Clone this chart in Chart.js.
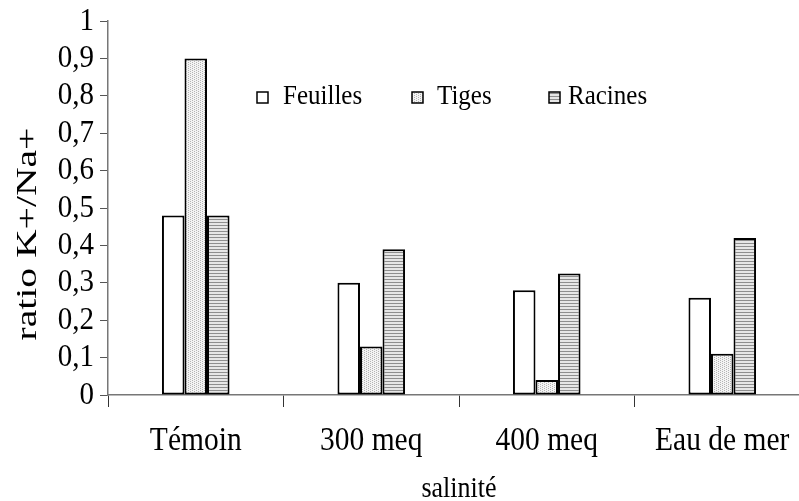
<!DOCTYPE html>
<html>
<head>
<meta charset="utf-8">
<script src="https://cdn.jsdelivr.net/npm/chart.js@4.4.1/dist/chart.umd.min.js"></script>
<style>
  html, body { margin: 0; padding: 0; background: #fff; overflow: hidden; }
  #wrap { width: 810px; height: 501px; }
</style>
</head>
<body>
<div id="wrap"><canvas id="ratioChart" width="810" height="501"></canvas></div>
<script>
// categories and K+/Na+ ratios per organ
const categories = ['Témoin', '300 meq', '400 meq', 'Eau de mer'];
const feuilles = [0.48, 0.30, 0.28, 0.26];
const tiges = [0.90, 0.13, 0.04, 0.11];
const racines = [0.48, 0.39, 0.325, 0.42];
const yMin = 0, yMax = 1, yStep = 0.1;

const SERIF = '"Liberation Serif", "Times New Roman", serif';
const TALL = 1.12; // glyphs are a bit taller than plain Times

function fmt(v) {
  return String(Math.round(v * 10) / 10).replace('.', ',');
}

// light stipple used for the stems
function dotPattern() {
  const c = document.createElement('canvas');
  c.width = 4; c.height = 4;
  const g = c.getContext('2d');
  g.fillStyle = '#f3f3f3';
  g.fillRect(0, 0, 4, 4);
  g.fillStyle = '#b4b4b4';
  g.fillRect(0, 0, 1, 1);
  g.fillRect(2, 1, 1, 1);
  g.fillRect(0, 2, 1, 1);
  g.fillRect(2, 3, 1, 1);
  return g.createPattern(c, 'repeat');
}

// horizontal hatching used for the roots
function stripePattern() {
  const c = document.createElement('canvas');
  c.width = 2; c.height = 3;
  const g = c.getContext('2d');
  g.fillStyle = '#e6e6e6';
  g.fillRect(0, 0, 2, 3);
  g.fillStyle = '#8e8e8e';
  g.fillRect(0, 0, 2, 1);
  return g.createPattern(c, 'repeat');
}

function tallText(ctx, text, x, y, sx, sy) {
  ctx.save();
  ctx.translate(x, y);
  ctx.scale(sx, sy);
  ctx.fillText(text, 0, 0);
  ctx.restore();
}

// legend drawn inside the plot area
const innerLegend = {
  id: 'innerLegend',
  afterDraw(chart, args, opts) {
    const ctx = chart.ctx;
    ctx.save();
    ctx.font = opts.font;
    ctx.textBaseline = 'alphabetic';
    chart.data.datasets.forEach((ds, i) => {
      const bx = opts.boxX[i], tx = opts.textX[i];
      ctx.fillStyle = ds.backgroundColor;
      ctx.fillRect(bx, opts.boxY, opts.box, opts.box);
      ctx.lineWidth = 1.5;
      ctx.strokeStyle = '#000';
      ctx.strokeRect(bx, opts.boxY, opts.box, opts.box);
      ctx.fillStyle = '#000';
      tallText(ctx, ds.label, tx, opts.baseline, 1, TALL);
    });
    ctx.restore();
  }
};

// tick labels and axis titles
const axisText = {
  id: 'axisText',
  afterDraw(chart, args, opts) {
    const ctx = chart.ctx;
    const xs = chart.scales.x, ys = chart.scales.y;
    ctx.save();
    ctx.fillStyle = '#000';
    ctx.textBaseline = 'middle';

    ctx.font = opts.yFont;
    ctx.textAlign = 'right';
    ys.ticks.forEach(t => {
      tallText(ctx, fmt(t.value), opts.yLabelX, ys.getPixelForValue(t.value), 1, TALL);
    });

    ctx.font = opts.xFont;
    ctx.textAlign = 'center';
    categories.forEach((c, i) => {
      tallText(ctx, c, xs.getPixelForTick(i), opts.xLabelY, 1, TALL);
    });

    ctx.font = opts.xTitleFont;
    tallText(ctx, opts.xTitle, (chart.chartArea.left + chart.chartArea.right) / 2, opts.xTitleY, 1, TALL);

    ctx.font = opts.yTitleFont;
    ctx.translate(opts.yTitleX, opts.yTitleY);
    ctx.rotate(-Math.PI / 2);
    tallText(ctx, opts.yTitle, 0, 0, opts.yTitleStretch, 1);
    ctx.restore();
  }
};

const ctx = document.getElementById('ratioChart').getContext('2d');
new Chart(ctx, {
  type: 'bar',
  data: {
    labels: categories,
    datasets: [
      { label: 'Feuilles', data: feuilles, backgroundColor: '#ffffff' },
      { label: 'Tiges', data: tiges, backgroundColor: dotPattern() },
      { label: 'Racines', data: racines, backgroundColor: stripePattern() }
    ]
  },
  options: {
    responsive: false,
    animation: false,
    events: [],
    layout: { padding: { top: 21, left: 0, right: 0, bottom: 0 }, autoPadding: false },
    datasets: {
      bar: {
        categoryPercentage: 0.385,
        barPercentage: 1,
        borderColor: '#000',
        borderWidth: 2,
        borderSkipped: false
      }
    },
    scales: {
      x: {
        afterFit(scale) { scale.height = 106; },
        grid: { drawOnChartArea: false, offset: true, tickLength: 12, color: '#333' },
        border: { color: '#777', width: 1.5 },
        ticks: { color: 'rgba(0,0,0,0)', maxRotation: 0 }
      },
      y: {
        min: yMin,
        max: yMax,
        afterFit(scale) { scale.width = 108; },
        grid: { drawOnChartArea: false, tickLength: 8, color: '#555' },
        border: { color: '#777', width: 1.5 },
        ticks: { stepSize: yStep, color: 'rgba(0,0,0,0)' }
      }
    },
    plugins: {
      legend: { display: false },
      tooltip: { enabled: false },
      innerLegend: {
        font: '25px ' + SERIF,
        box: 11,
        boxY: 92,
        baseline: 104,
        boxX: [257, 412, 549],
        textX: [283, 437, 568]
      },
      axisText: {
        yFont: '29px ' + SERIF,
        yLabelX: 94,
        xFont: '29.5px ' + SERIF,
        xLabelY: 441,
        xTitle: 'salinité',
        xTitleFont: '26px ' + SERIF,
        xTitleY: 489,
        yTitle: 'ratio K+/Na+',
        yTitleFont: '30px ' + SERIF,
        yTitleX: 28,
        yTitleY: 234,
        yTitleStretch: 1.32
      }
    }
  },
  plugins: [innerLegend, axisText]
});
</script>
</body>
</html>
